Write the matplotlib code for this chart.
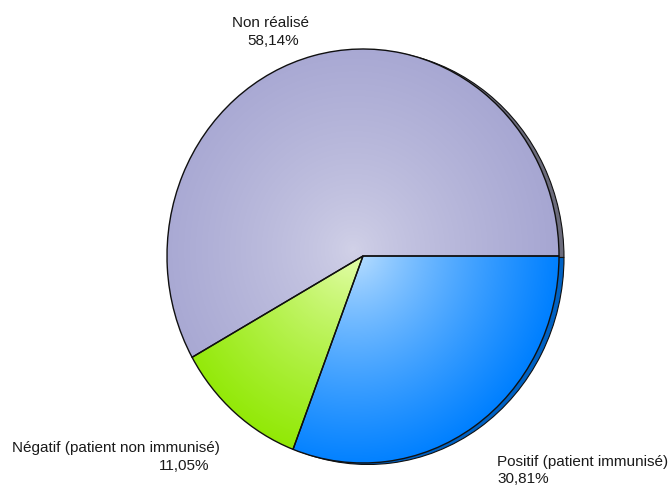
import numpy as np
import matplotlib
matplotlib.use("Agg")
import matplotlib.pyplot as plt
from matplotlib.colors import to_rgb

labels = ["Non réalisé", "Négatif (patient non immunisé)", "Positif (patient immunisé)"]
values = [58.14, 11.05, 30.81]
pct_labels = ["58,14%", "11,05%", "30,81%"]
center_colors = ["#d2d2e8", "#eaffb8", "#c8e6ff"]
edge_colors = ["#a6a6d2", "#8fe800", "#0080ff"]
depth_colors = ["#6c6c7c", "#60a000", "#0062c4"]

W, H = 670, 487
fig = plt.figure(figsize=(W / 100, H / 100), dpi=100)
ax = fig.add_axes([0, 0, 1, 1])
cx, cy, rx, ry = 363, 256, 196, 207
ax.set_xlim((0 - cx) / rx, (W - cx) / rx)
ax.set_ylim((cy - H) / ry, (cy - 0) / ry)
ax.axis("off")

# depth (extrusion) layer
dx, dy = 5 / rx, -1.5 / ry
ax.pie(values, colors=depth_colors, startangle=0, counterclock=True,
       center=(dx, dy), radius=1, frame=True,
       wedgeprops=dict(edgecolor="#101010", linewidth=0.8))

wedges, _ = ax.pie(values, colors=edge_colors, startangle=0, counterclock=True,
                   center=(0, 0), radius=1, frame=True,
                   wedgeprops=dict(edgecolor="#101010", linewidth=1.0))

# radial gradient fills
n = 500
xs = np.linspace(-1, 1, n)
X, Y = np.meshgrid(xs, xs[::-1])
R = np.clip(np.sqrt((X + 0.05) ** 2 + (Y - 0.03) ** 2) / 1.05, 0, 1)
T = R ** 0.75
for w, c0, c1 in zip(wedges, center_colors, edge_colors):
    a, b = np.array(to_rgb(c0)), np.array(to_rgb(c1))
    img = a[None, None, :] * (1 - T[..., None]) + b[None, None, :] * T[..., None]
    im = ax.imshow(img, extent=[-1, 1, -1, 1], zorder=w.get_zorder() + 0.1,
                   interpolation="bilinear")
    im.set_clip_path(w)
    w.set_facecolor("none")
    w.set_zorder(w.get_zorder() + 0.2)

ax.set_xlim((0 - cx) / rx, (W - cx) / rx)
ax.set_ylim((cy - H) / ry, (cy - 0) / ry)
ax.set_aspect("auto")

font = dict(family=["Liberation Sans", "DejaVu Sans"], fontsize=11, color="#1a1a1a")

def px(x, y):
    return x / W, 1 - y / H

fig.text(*px(270, 27), labels[0], ha="center", va="baseline", **font)
fig.text(*px(273, 45), pct_labels[0], ha="center", va="baseline", **font)
fig.text(*px(220, 452), labels[1], ha="right", va="baseline", **font)
fig.text(*px(209, 470), pct_labels[1], ha="right", va="baseline", **font)
fig.text(*px(497, 466), labels[2], ha="left", va="baseline", **font)
fig.text(*px(497, 483), pct_labels[2], ha="left", va="baseline", **font)

fig.savefig("out.png", dpi=100, facecolor="white")
